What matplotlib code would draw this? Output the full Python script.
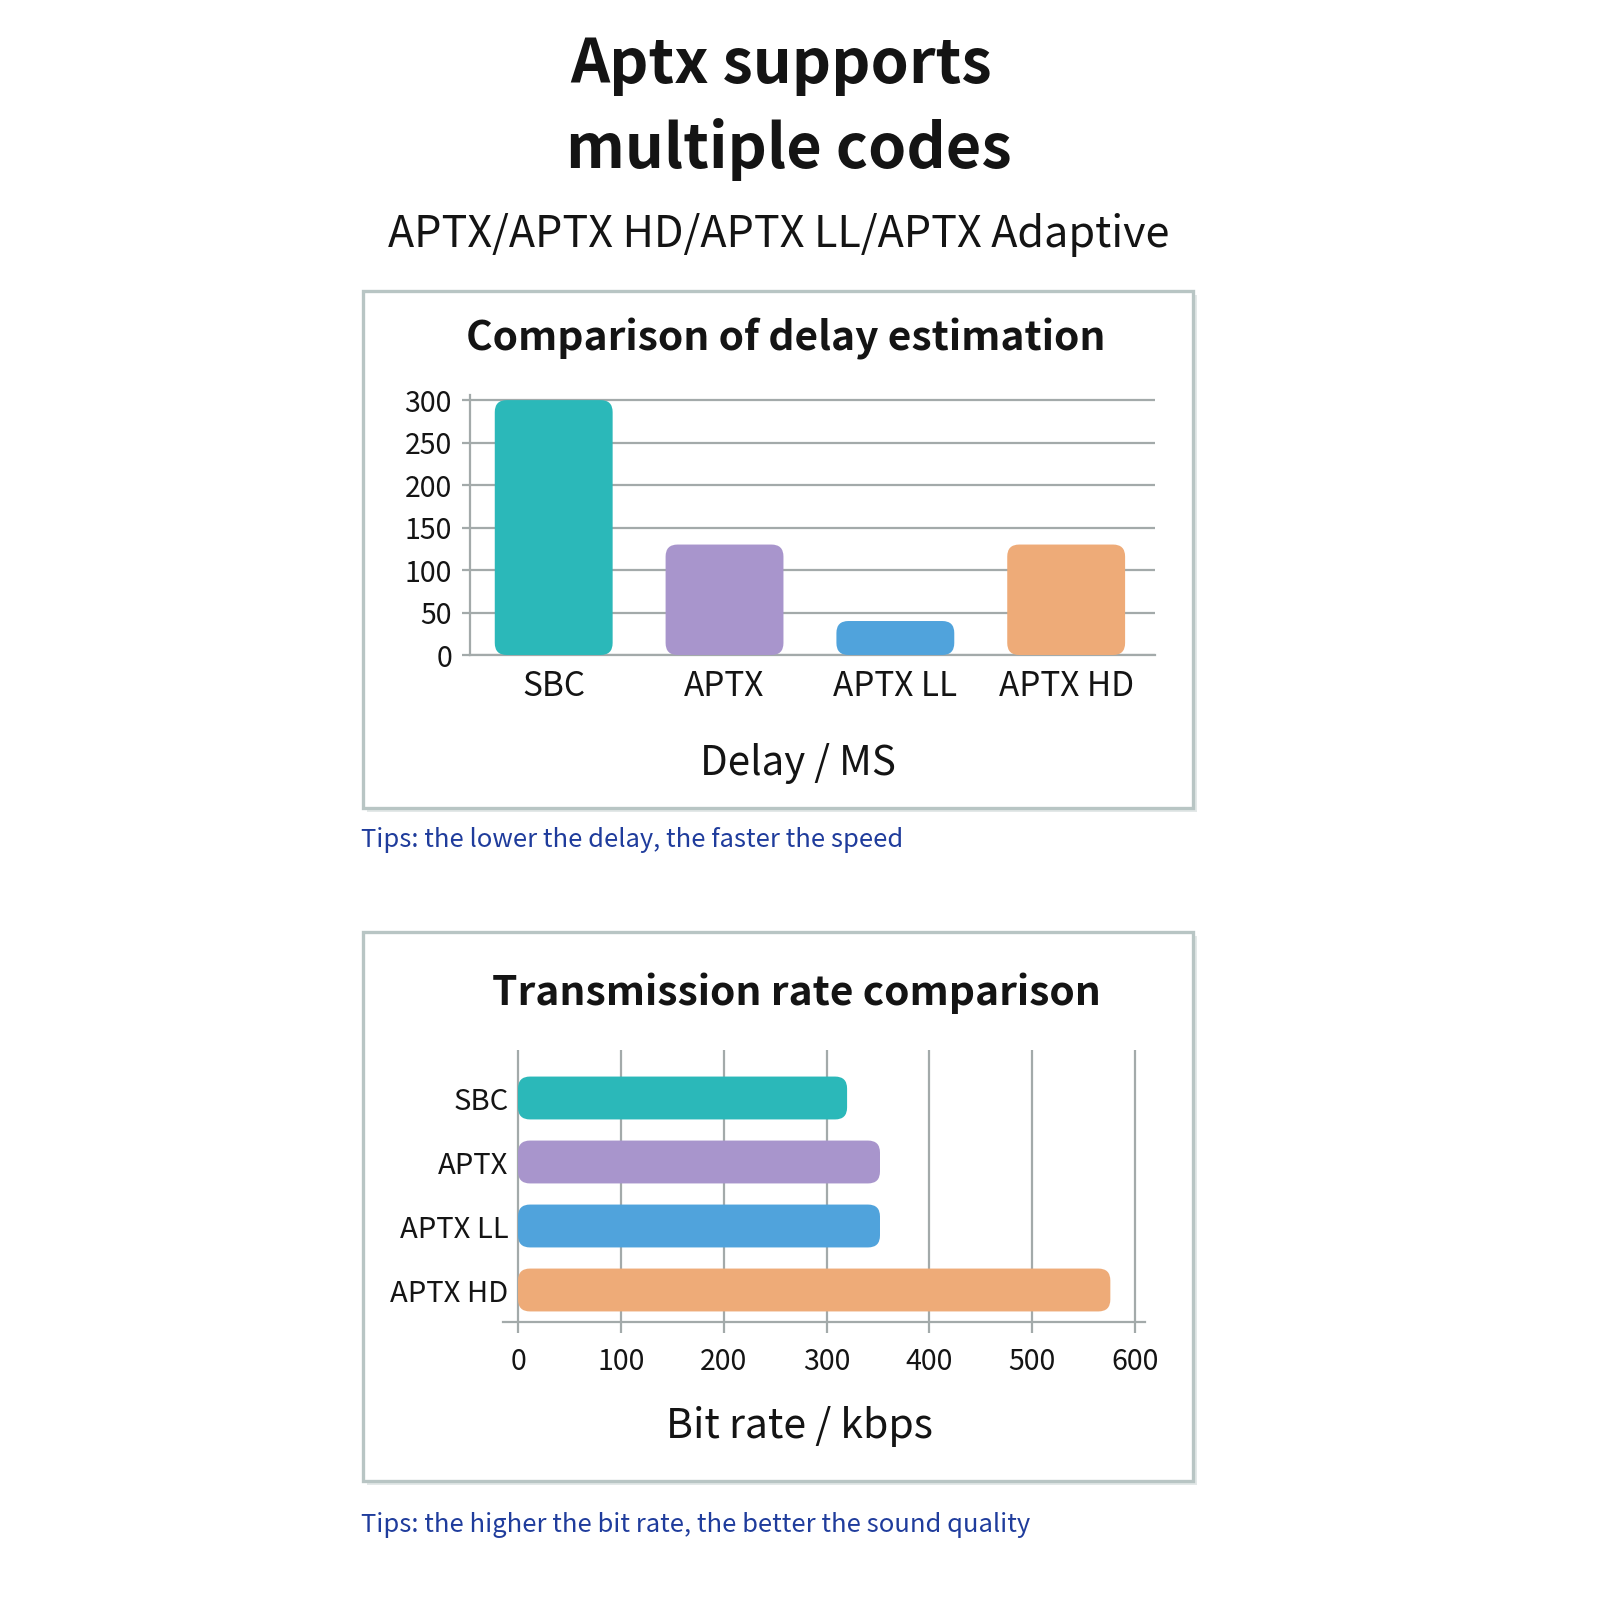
import matplotlib
matplotlib.use('Agg')
import matplotlib.pyplot as plt
from matplotlib.patches import FancyBboxPatch, Rectangle

plt.rcParams['font.family'] = ['Noto Sans CJK SC', 'DejaVu Sans']

# data
codecs = ['SBC', 'APTX', 'APTX LL', 'APTX HD']
delay_ms = [300, 130, 40, 130]
bitrate_kbps = [320, 352, 352, 576]
delay_ticks = [0, 50, 100, 150, 200, 250, 300]
rate_ticks = [0, 100, 200, 300, 400, 500, 600]
colors = ['#2bb8b9', '#a895cc', '#50a3dc', '#eeab78']

title_lines = ['Aptx supports', 'multiple codes']
subtitle = 'APTX/APTX HD/APTX LL/APTX Adaptive'
tip_delay = 'Tips: the lower the delay, the faster the speed'
tip_rate = 'Tips: the higher the bit rate, the better the sound quality'

W = H = 1600
GRID = '#a3aaaa'
FRAME = '#b8c5c4'
TIP = '#1f3c9c'
INK = '#141414'


def fx(px):
    return px / W


def fy(py):
    return 1 - py / H


def add_axes_px(fig, left, top, right, bottom):
    return fig.add_axes([fx(left), fy(bottom), (right - left) / W, (bottom - top) / H])


def panel(fig, left, top, right, bottom):
    # shadow + frame
    fig.patches.append(Rectangle((fx(left + 4), fy(bottom + 4)), (right - left) / W, (bottom - top) / H,
                                 transform=fig.transFigure, facecolor='#e3e8e8', edgecolor='none', zorder=-3))
    fig.patches.append(Rectangle((fx(left), fy(bottom)), (right - left) / W, (bottom - top) / H,
                                 transform=fig.transFigure, facecolor='white', edgecolor=FRAME,
                                 linewidth=2.4, zorder=-2))


def px_per_unit(ax):
    (x0, y0), (x1, y1) = ax.transData.transform([(0, 0), (1, 1)])
    return abs(x1 - x0), abs(y1 - y0)


fig = plt.figure(figsize=(16, 16), dpi=100)
fig.patch.set_facecolor('white')

fig.text(fx(781), fy(83), title_lines[0], ha='center', va='baseline', fontsize=44,
         fontweight='bold', color=INK)
fig.text(fx(789), fy(168), title_lines[1], ha='center', va='baseline', fontsize=44,
         fontweight='bold', color=INK)
fig.text(fx(779), fy(247), subtitle, ha='center', va='baseline', fontsize=31, color=INK)

# ---- delay chart ----
panel(fig, 363, 291, 1193, 808)
fig.text(fx(786), fy(350), 'Comparison of delay estimation', ha='center', va='baseline',
         fontsize=29.3, fontweight='bold', color=INK)

ax1 = add_axes_px(fig, 470, 395, 1155, 655)
ax1.set_facecolor('none')
ax1.set_xlim(-0.49, 3.52)
ax1.set_ylim(0, 306)
sx, sy = px_per_unit(ax1)
bw = 0.69
for i, (v, c) in enumerate(zip(delay_ms, colors)):
    ax1.add_patch(FancyBboxPatch((i - bw / 2, 0), bw, v,
                                 boxstyle='round,pad=0,rounding_size=%f' % (12 / sx),
                                 mutation_aspect=sx / sy, facecolor=c, edgecolor='none', zorder=3))
ax1.set_yticks(delay_ticks)
ax1.set_xticks(range(len(codecs)))
ax1.set_xticklabels(codecs)
ax1.yaxis.grid(True, color=GRID, linewidth=1.6)
ax1.set_axisbelow(True)
for s in ['top', 'right']:
    ax1.spines[s].set_visible(False)
for s in ['left', 'bottom']:
    ax1.spines[s].set_color(GRID)
    ax1.spines[s].set_linewidth(1.6)
ax1.tick_params(axis='y', length=6, width=1.6, color=GRID, labelsize=20.5, pad=7, labelcolor=INK)
ax1.tick_params(axis='x', length=0, labelsize=24, pad=10, labelcolor=INK)
ax1.set_xlabel('Delay / MS', fontsize=29, color=INK)
ax1.xaxis.set_label_coords((798 - 470) / (1155 - 470), -0.34)

fig.text(fx(361), fy(847), tip_delay, ha='left', va='baseline', fontsize=18.4, color=TIP)

# ---- bit rate chart ----
panel(fig, 363, 932, 1193, 1481)
fig.text(fx(796), fy(1005), 'Transmission rate comparison', ha='center', va='baseline',
         fontsize=29.3, fontweight='bold', color=INK)

ax2 = add_axes_px(fig, 503, 1050, 1145, 1322)
ax2.set_facecolor('none')
ax2.set_xlim(-14.6, 609.7)
ax2.set_ylim(3.5, -0.75)
sx, sy = px_per_unit(ax2)
bh = 0.67
for i, (v, c) in enumerate(zip(bitrate_kbps, colors)):
    ax2.add_patch(FancyBboxPatch((0, i - bh / 2), v, bh,
                                 boxstyle='round,pad=0,rounding_size=%f' % (12 / sx),
                                 mutation_aspect=sx / sy, facecolor=c, edgecolor='none', zorder=3))
ax2.set_xticks(rate_ticks)
ax2.set_yticks(range(len(codecs)))
ax2.set_yticklabels(codecs)
ax2.xaxis.grid(True, color=GRID, linewidth=1.6)
ax2.set_axisbelow(True)
for s in ['top', 'right', 'left']:
    ax2.spines[s].set_visible(False)
ax2.spines['bottom'].set_color(GRID)
ax2.spines['bottom'].set_linewidth(1.6)
ax2.tick_params(axis='x', length=8, width=1.6, color=GRID, labelsize=20.5, pad=10, labelcolor=INK)
ax2.tick_params(axis='y', length=0, labelsize=21, pad=-4, labelcolor=INK)
ax2.set_xlabel('Bit rate / kbps', fontsize=29.5, color=INK)
ax2.xaxis.set_label_coords((799 - 503) / (1145 - 503), -0.31)

fig.text(fx(361), fy(1532), tip_rate, ha='left', va='baseline', fontsize=18.4, color=TIP)

fig.savefig('out.png', dpi=100)
